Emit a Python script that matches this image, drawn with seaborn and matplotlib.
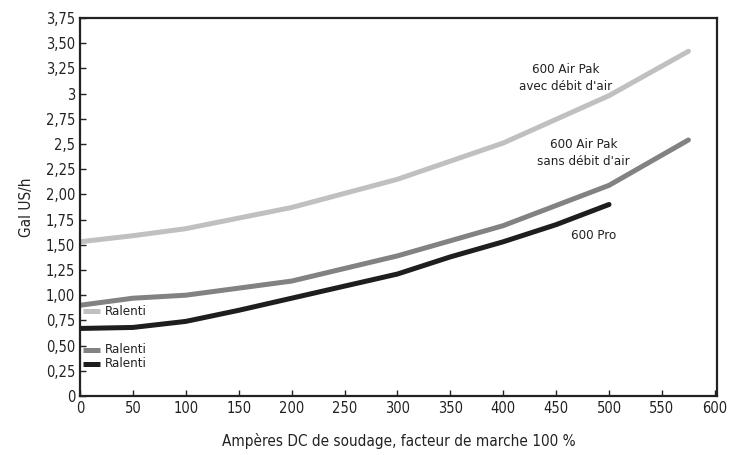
import numpy as np
import pandas as pd
import matplotlib.pyplot as plt
import seaborn as sns
from matplotlib.ticker import FixedLocator, FixedFormatter

# courbes de consommation (Gal US/h) selon les ampères
amp_avec = [0, 50, 100, 200, 300, 400, 500, 575]
gal_avec = [1.53, 1.59, 1.66, 1.87, 2.15, 2.51, 2.98, 3.42]

amp_sans = [0, 50, 100, 200, 300, 400, 500, 575]
gal_sans = [0.90, 0.97, 1.00, 1.14, 1.39, 1.69, 2.09, 2.54]

amp_pro = [0, 50, 100, 150, 200, 300, 350, 400, 450, 500]
gal_pro = [0.67, 0.68, 0.74, 0.85, 0.97, 1.21, 1.38, 1.53, 1.70, 1.90]

# valeurs au ralenti
ralenti = [0.84, 0.46, 0.32]

couleurs = ['#c0c0c0', '#828282', '#1e1e1e']
series = ['avec', 'sans', 'pro']

y_ticks = [0, 0.25, 0.5, 0.75, 1.0, 1.25, 1.5, 1.75, 2.0, 2.25, 2.5, 2.75, 3.0, 3.25, 3.5, 3.75]
y_labels = ['0', '0,25', '0,50', '0,75', '1,00', '1,25', '1,50', '1,75', '2,00', '2,25',
            '2,5', '2,75', '3', '3,25', '3,50', '3,75']
x_ticks = list(range(0, 601, 50))

df = pd.concat([
    pd.DataFrame({'amp': amp_avec, 'gal': gal_avec, 'serie': 'avec'}),
    pd.DataFrame({'amp': amp_sans, 'gal': gal_sans, 'serie': 'sans'}),
    pd.DataFrame({'amp': amp_pro, 'gal': gal_pro, 'serie': 'pro'}),
])

sns.set_style('white')
plt.rcParams['font.family'] = ['DejaVu Sans']
plt.rcParams['font.stretch'] = 'condensed'

fig = plt.figure(figsize=(7.29, 4.55), dpi=100)
ax = fig.add_axes([0.1097, 0.1297, 0.8738, 0.8307])

sns.lineplot(data=df, x='amp', y='gal', hue='serie', hue_order=series,
             palette=couleurs, linewidth=3.6, legend=False, ax=ax,
             estimator=None, sort=False)

# petits traits "Ralenti"
for val, c in zip(ralenti, couleurs):
    ax.plot([3, 19], [val, val], color=c, linewidth=3.6, solid_capstyle='butt')
    ax.text(24, val, 'Ralenti', fontsize=9.5, va='center', ha='left', color='#222222')

ax.text(459, 3.15, "600 Air Pak\navec débit d'air", fontsize=9.5, ha='center', va='center',
        color='#222222', linespacing=1.4)
ax.text(476, 2.41, "600 Air Pak\nsans débit d'air", fontsize=9.5, ha='center', va='center',
        color='#222222', linespacing=1.4)
ax.text(485, 1.59, "600 Pro", fontsize=9.5, ha='center', va='center', color='#222222')

ax.set_xlim(0, 602)
ax.set_ylim(0, 3.75)
ax.yaxis.set_major_locator(FixedLocator(y_ticks))
ax.yaxis.set_major_formatter(FixedFormatter(y_labels))
ax.set_xticks(x_ticks)
ax.tick_params(direction='in', length=4, width=1, colors='#222222', labelsize=10.5,
               left=True, bottom=True)
for s in ax.spines.values():
    s.set_color('#222222')
    s.set_linewidth(1.6)

ax.set_xlabel('Ampères DC de soudage, facteur de marche 100 %', fontsize=11, labelpad=12,
              color='#222222')
ax.set_ylabel('Gal US/h', fontsize=11, labelpad=8, color='#222222')

fig.savefig('out.png', dpi=100)
